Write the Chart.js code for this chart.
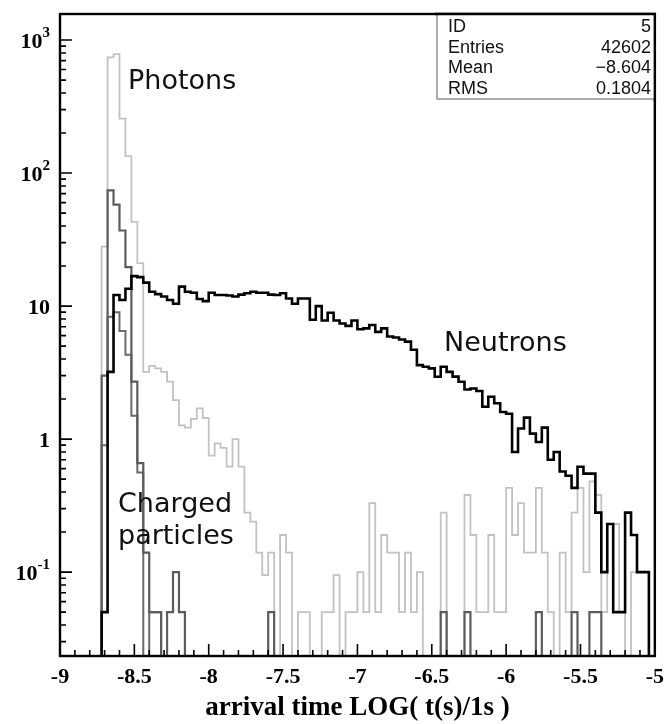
<!DOCTYPE html>
<html>
<head>
<meta charset="utf-8">
<script src="https://cdn.jsdelivr.net/npm/chart.js@4.4.1/dist/chart.umd.min.js"></script>
<style>
  html, body { margin: 0; padding: 0; background: #fff; }
</style>
</head>
<body>
<canvas id="myChart" width="672" height="724"></canvas>
<script>
(function () {
  'use strict'

// 100 bins of 0.04 in log10(t), from -9 to -5
var binLow = -9
var binWidth = 0.04
var binEdges = []
for (var i = 0; i <= 100; i++) binEdges.push(+(binLow + i * binWidth).toFixed(2))

var photons = [
  0, 0, 0, 0, 0, 0, 0, 28, 740, 785,
  257, 134, 43, 21, 3.2, 3.55, 3.4, 3.2, 2.7, 1.96,
  1.27, 1.22, 1.42, 1.7, 1.44, 0.75, 0.93, 0.86, 0.62, 1.0,
  0.62, 0.28, 0.24, 0.14, 0.095, 0.14, 0, 0.19, 0.14, 0,
  0.05, 0.05, 0, 0, 0.05, 0.05, 0.095, 0, 0.05, 0.05,
  0.1, 0.05, 0.33, 0.05, 0.19, 0.14, 0.14, 0.05, 0.14, 0.05,
  0.1, 0, 0, 0, 0.28, 0, 0, 0, 0.38, 0.19,
  0.05, 0.05, 0.19, 0.05, 0.05, 0.43, 0.19, 0.33, 0.14, 0.14,
  0.43, 0.14, 0.05, 0, 0.14, 0.05, 0.28, 0.43, 0.1, 0.48,
  0.38, 0.05, 0.23, 0.23, 0.05, 0, 0.1, 0.1, 0.1, 0
]

var neutrons = [
  0, 0, 0, 0, 0, 0, 0, 0.05, 3.2, 12.1,
  11.1, 13.5, 16.8, 16.5, 15, 12.8, 12.3, 11.8, 11.1, 10.4,
  14, 12.8, 12.6, 11.3, 10.9, 12.6, 12.1, 12.1, 12.0, 11.8,
  12.2, 12.5, 12.8, 12.6, 12.6, 12.2, 12.1, 12.5, 11.4, 10.4,
  11.4, 11.4, 7.9, 10, 7.8, 8.9, 7.8, 7.4, 7.1, 7.8,
  6.7, 6.8, 7.2, 6.4, 6.8, 5.9, 5.8, 5.6, 5.4, 4.7,
  3.6, 3.5, 3.4, 2.94, 3.5, 3.2, 2.95, 2.7, 2.36, 2.4,
  2.3, 1.75, 2.08, 1.86, 1.6, 1.55, 0.8, 1.2, 1.45, 1.1,
  0.95, 1.22, 0.7, 0.8, 0.57, 0.53, 0.43, 0.62, 0.55, 0.55,
  0.28, 0.1, 0.23, 0.05, 0.05, 0.28, 0.19, 0.1, 0.1, 0
]

var chargedA = [
  0, 0, 0, 0, 0, 0, 0, 3.0, 74, 58,
  37, 19.6, 2.7, 0.66, 0.14, 0.05, 0.05, 0, 0.05, 0.1,
  0.05, 0, 0, 0, 0, 0, 0, 0, 0, 0,
  0, 0, 0, 0, 0, 0.05, 0, 0, 0, 0,
  0, 0, 0, 0, 0, 0, 0, 0, 0, 0,
  0, 0, 0, 0, 0, 0, 0, 0, 0, 0,
  0, 0, 0, 0, 0.05, 0, 0, 0, 0.05, 0,
  0, 0, 0, 0, 0, 0, 0, 0, 0, 0,
  0.05, 0, 0, 0, 0, 0, 0.05, 0, 0, 0.05,
  0.05, 0, 0, 0, 0, 0, 0, 0, 0, 0
]

var chargedB = [
  0, 0, 0, 0, 0, 0, 0, 0.9, 8.3, 9,
  6.5, 4.3, 1.5, 0.56, 0, 0.05, 0.05, 0, 0, 0,
  0, 0, 0, 0, 0, 0, 0, 0, 0, 0,
  0, 0, 0, 0, 0, 0, 0, 0, 0, 0,
  0, 0, 0, 0, 0, 0, 0, 0, 0, 0,
  0, 0, 0, 0, 0, 0, 0, 0, 0, 0,
  0, 0, 0, 0, 0, 0, 0, 0, 0, 0,
  0, 0, 0, 0, 0, 0, 0, 0, 0, 0,
  0, 0, 0, 0, 0, 0, 0, 0, 0, 0,
  0, 0, 0, 0, 0, 0, 0, 0, 0, 0
]

var xTickLabels = ['-9', '-8.5', '-8', '-7.5', '-7', '-6.5', '-6', '-5.5', '-5']
var yDecades = [-1, 0, 1, 2, 3]

var statsRows = [
  ['ID', '5'],
  ['Entries', '42602'],
  ['Mean', '\u22128.604'],
  ['RMS', '0.1804']
]

var yMin = 0.0234
var yMax = 1570
var floorVal = 1e-3 // empty bins fall off the bottom of the log axis

function steps(vals) {
  var pts = vals.map(function (v, i) { return { x: binEdges[i], y: v > 0 ? v : floorVal } })
  pts.push({ x: binEdges[vals.length], y: floorVal })
  return pts
}

function histo(label, vals, color, width, order) {
  return {
    label: label,
    data: steps(vals),
    borderColor: color,
    borderWidth: width,
    stepped: 'before',
    pointRadius: 0,
    fill: false,
    order: order,
    borderJoinStyle: 'miter'
  }
}

// frame, inward ticks, y labels with exponents, stats box, text labels
var decor = {
  id: 'decor',
  afterDraw: function (chart) {
    var ctx = chart.ctx
    var a = chart.chartArea
    var xs = chart.scales.x
    var ys = chart.scales.y
    ctx.save()
    ctx.strokeStyle = '#000'
    ctx.lineWidth = 1.6
    ctx.beginPath()
    for (var k = 0; k <= 40; k++) {
      var px = xs.getPixelForValue(-9 + k * 0.1)
      var len = k % 5 === 0 ? 12 : 6
      ctx.moveTo(px, a.bottom)
      ctx.lineTo(px, a.bottom - len)
    }
    for (var e = -2; e <= 3; e++) {
      for (var m = 1; m <= 9; m++) {
        var v = m * Math.pow(10, e)
        if (v < yMin || v > yMax) continue
        var py = ys.getPixelForValue(v)
        ctx.moveTo(a.left, py)
        ctx.lineTo(a.left + (m === 1 ? 12 : 6), py)
      }
    }
    ctx.stroke()

    ctx.lineWidth = 2.4
    ctx.strokeRect(a.left, a.top, a.right - a.left, a.bottom - a.top)

    // y labels
    ctx.fillStyle = '#000'
    ctx.textBaseline = 'middle'
    ctx.textAlign = 'right'
    yDecades.forEach(function (d) {
      var py = ys.getPixelForValue(Math.pow(10, d)) + 2
      var right = a.left - 10
      if (d === 0 || d === 1) {
        ctx.font = 'bold 22px "Liberation Serif"'
        ctx.fillText(d === 0 ? '1' : '10', right, py)
      } else {
        var sup = String(d)
        ctx.font = 'bold 15px "Liberation Serif"'
        var w = ctx.measureText(sup).width
        ctx.fillText(sup, right, py - 9)
        ctx.font = 'bold 22px "Liberation Serif"'
        ctx.fillText('10', right - w, py)
      }
    })

    // stats box
    var bx = 437, by = a.top, bw = a.right - 437, bh = 85
    ctx.fillStyle = '#fff'
    ctx.fillRect(bx, by, bw, bh)
    ctx.strokeStyle = '#777'
    ctx.lineWidth = 1.2
    ctx.strokeRect(bx, by, bw, bh)
    ctx.strokeStyle = '#000'
    ctx.lineWidth = 2.4
    ctx.beginPath()
    ctx.moveTo(bx - 2, a.top)
    ctx.lineTo(a.right, a.top)
    ctx.lineTo(a.right, by + bh + 2)
    ctx.stroke()
    ctx.fillStyle = '#111'
    ctx.font = '18px "Liberation Sans"'
    statsRows.forEach(function (r, i) {
      var ry = by + 13 + i * 20.7
      ctx.textAlign = 'left'
      ctx.fillText(r[0], 448, ry)
      ctx.textAlign = 'right'
      ctx.fillText(r[1], 651, ry)
    })

    // curve labels
    ctx.fillStyle = '#111'
    ctx.textAlign = 'left'
    ctx.textBaseline = 'alphabetic'
    ctx.font = '27px "DejaVu Sans"'
    ctx.fillText('Photons', 128, 89)
    ctx.fillText('Neutrons', 444, 351)
    ctx.fillText('Charged', 118, 512)
    ctx.fillText('particles', 118, 544)
    ctx.restore()
  }
}

const ctx = document.getElementById('myChart').getContext('2d')

new Chart(ctx, {
  type: 'line',
  data: {
    datasets: [
      histo('Neutrons', neutrons, '#000000', 2.6, 0),
      histo('Charged A', chargedA, '#5c5c5c', 2.2, 1),
      histo('Charged B', chargedB, '#6a6a6a', 2.0, 2),
      histo('Photons', photons, '#c2c2c2', 1.8, 3)
    ]
  },
  options: {
    responsive: false,
    animation: false,
    layout: { padding: { left: 0, top: 14, right: 10, bottom: 0 }, autoPadding: false },
    plugins: { legend: { display: false }, tooltip: { enabled: false } },
    scales: {
      x: {
        type: 'linear',
        min: -9,
        max: -5,
        grid: { display: false, drawTicks: false },
        border: { display: false },
        ticks: {
          stepSize: 0.5,
          autoSkip: false,
          maxRotation: 0,
          padding: 8,
          color: '#000',
          font: { family: 'Liberation Serif', weight: 'bold', size: 22 },
          callback: function (v, i) { return xTickLabels[i] }
        },
        title: {
          display: true,
          text: 'arrival time LOG( t(s)/1s )',
          color: '#000',
          font: { family: 'Liberation Serif', weight: 'bold', size: 27 },
          padding: { top: 0, bottom: 0 }
        },
        afterFit: function (s) { s.height = 68 }
      },
      y: {
        type: 'logarithmic',
        min: yMin,
        max: yMax,
        grid: { display: false, drawTicks: false },
        border: { display: false },
        ticks: { display: false },
        afterFit: function (s) { s.width = 60 }
      }
    }
  },
  plugins: [decor]
})

})()
</script>
</body>
</html>
